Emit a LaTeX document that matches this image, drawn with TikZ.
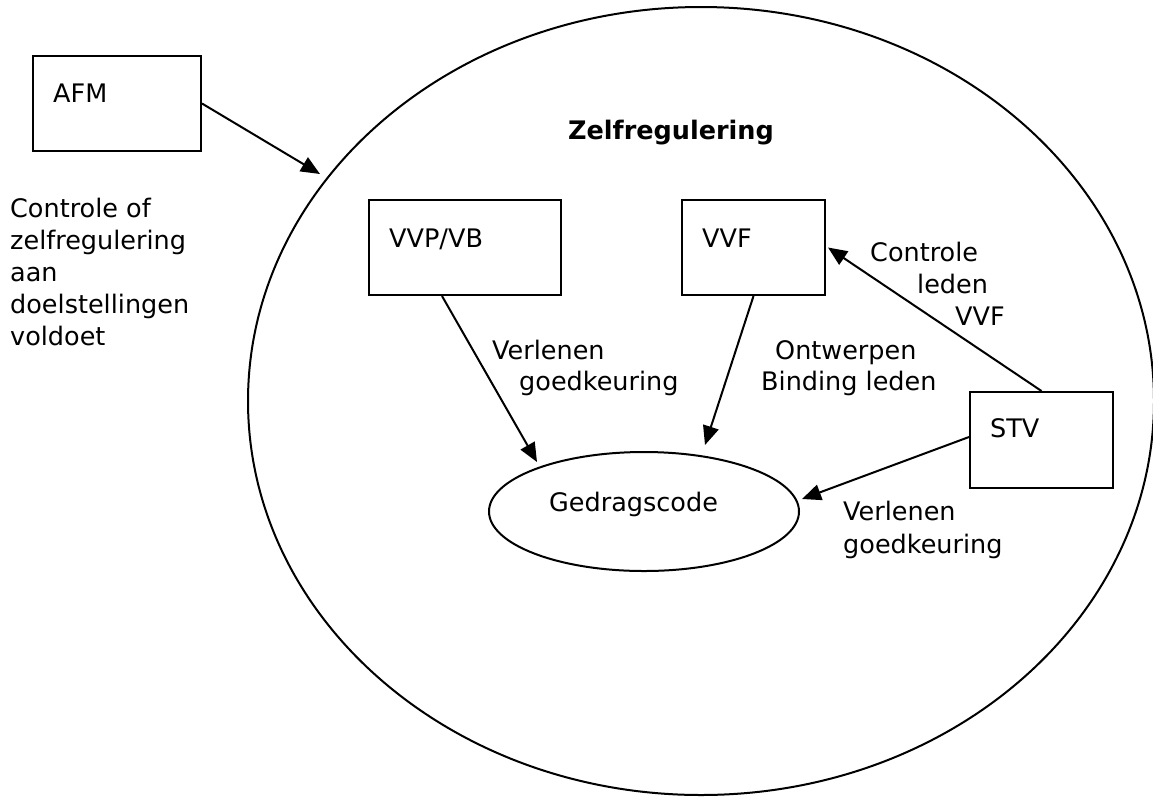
\documentclass[tikz,border=0pt]{standalone}
\usepackage{fontspec}
\setmainfont{DejaVu Sans}
\usetikzlibrary{arrows.meta,shapes.geometric,calc}
\begin{document}
\begin{tikzpicture}[x=1pt,y=-1pt,
  box/.style={draw, rectangle, line width=2pt, inner sep=0pt, anchor=north west},
  oval/.style={draw, ellipse, line width=2pt, inner sep=0pt},
  txt/.style={anchor=base west, inner sep=0pt, align=left, font=\fontsize{25.5}{31}\selectfont},
  arr/.style={-{Triangle[length=19pt,width=16pt]}, line width=2pt}]
\useasboundingbox (0,0) rectangle (1153,796);

% big ellipse
\node[oval, minimum width=906pt, minimum height=788pt] (zr) at (701,401) {};
\node[txt, font=\fontsize{25.5}{31}\selectfont\bfseries] (zrl) at (568,139) {Zelfregulering};

% boxes
\node[box, minimum width=168pt, minimum height=95pt] (afm) at (32,55) {};
\node[txt] (afml) at (53,102) {AFM};
\node[box, minimum width=192pt, minimum height=95pt] (vvp) at (368,199) {};
\node[txt] (vvpl) at (389,247) {VVP/VB};
\node[box, minimum width=143pt, minimum height=95pt] (vvf) at (681,199) {};
\node[txt] (vvfl) at (702,247) {VVF};
\node[box, minimum width=143pt, minimum height=96pt] (stv) at (969,391) {};
\node[txt] (stvl) at (990,437) {STV};

% Gedragscode
\node[oval, minimum width=310pt, minimum height=119pt] (g) at (644,511.5) {};
\node[txt] (gl) at (549,511) {Gedragscode};

% left text (anchor base = last line baseline)
\node[txt, font=\fontsize{25.5}{32}\selectfont] (afmtxt) at (10,345) {Controle of\\zelfregulering\\aan\\doelstellingen\\voldoet};

% labels
\node[txt] (l1) at (492,390) {Verlenen\\\hspace*{27pt}goedkeuring};
\node[txt] (l2) at (761,390) {\hspace*{14pt}Ontwerpen\\Binding leden};
\node[txt, font=\fontsize{25.5}{32}\selectfont] (l3) at (870,325) {Controle\\\hspace*{47pt}leden\\\hspace*{85pt}VVF};
\node[txt, font=\fontsize{25.5}{33}\selectfont] (l4) at (843,553) {Verlenen\\goedkeuring};

% arrows
\coordinate (t0) at (320,174);
\coordinate (t1) at (537,462);
\coordinate (t2) at (705,445);
\coordinate (t3) at (802,499);
\draw[arr] (afm.east) -- (t0);
\draw[arr] ([xshift=-23pt]vvp.south) -- (t1);
\draw[arr] (vvf.south) -- (t2);
\draw[arr] (stv.north) -- ([xshift=2pt]vvf.east);
\draw[arr] ([yshift=3pt]stv.west) -- (t3);
\end{tikzpicture}
\end{document}
